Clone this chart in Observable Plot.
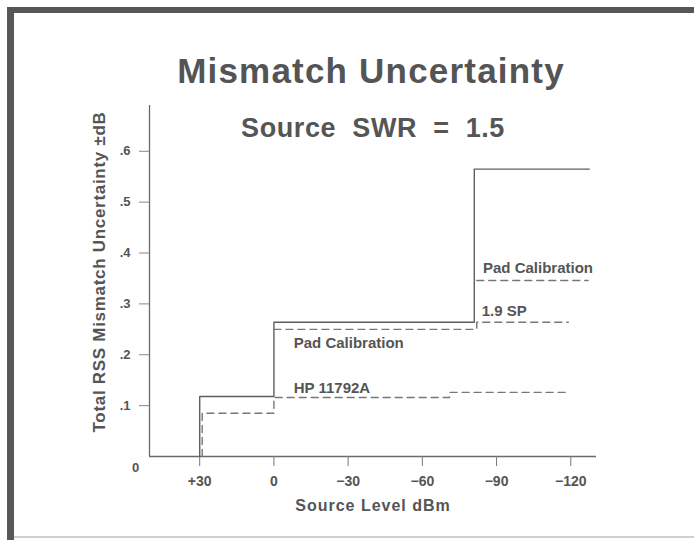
<!DOCTYPE html>
<html><head><meta charset="utf-8">
<script src="https://cdn.jsdelivr.net/npm/d3@7"></script>
<script src="https://cdn.jsdelivr.net/npm/@observablehq/plot@0.6"></script>
<style>
body{margin:0;background:#fff;overflow:hidden;}
#wrap{position:relative;width:694px;height:540px;overflow:hidden;background:#fff;font-family:"Liberation Sans",Arial,sans-serif;}
#border{position:absolute;left:7px;top:7px;width:720px;height:560px;border-top:6px solid #575757;border-left:7px solid #575757;}
#bottom{position:absolute;left:14px;top:536px;width:700px;height:2px;background:#cfcfcf;}
#title{position:absolute;left:0;width:742px;top:54px;text-align:center;font-size:35px;font-weight:bold;color:#545454;line-height:34px;letter-spacing:1.2px;margin:0;}
#chart{position:absolute;left:0;top:0;}
</style></head><body>
<div id="wrap"><div id="border"></div><div id="bottom"></div><div id="chart"></div><h1 id="title">Mismatch Uncertainty</h1></div>
<script>
const subtitle = "Source SWR = 1.5";
const xLabel = "Source Level dBm";
const yLabel = "Total RSS Mismatch Uncertainty \u00b1dB";

const xTicks = [30, 0, -30, -60, -90, -120];
const xTickLabels = ["+30", "0", "\u221230", "\u221260", "\u221290", "\u2212120"];
const yTicks = [0.1, 0.2, 0.3, 0.4, 0.5, 0.6];
const yTickLabels = [".1", ".2", ".3", ".4", ".5", ".6"];
const xDomain = [50.3, -130.4];
const yDomain = [0, 0.69];

// Total (solid step line)
const totalX = [30, 30, 0, -81, -127.5];
const totalY = [0, 0.118, 0.264, 0.565, 0.565];
// HP 11792A (dashed)
const hpX = [29, 29, 0, -71, -119];
const hpY = [0, 0.085, 0.116, 0.126, 0.126];
// Pad Calibration / 1.9 SP (dashed)
const spX = [0, -82, -119];
const spY = [0.25, 0.264, 0.264];
// Pad Calibration, right (dashed)
const padX = [-82, -127];
const padY = [0.346, 0.346];

const labelText = ["Pad Calibration", "HP 11792A", "Pad Calibration", "1.9 SP"];
const labelX = [-8, -8, -84.5, -84];
const labelY = [0.222, 0.134, 0.37, 0.285];

const toPts = (xs, ys) => xs.map((x, i) => ({x, y: ys[i]}));
const labels = labelText.map((t, i) => ({t, x: labelX[i], y: labelY[i]}));
const ink = "#555";

const chart = Plot.plot({
  width: 694, height: 540,
  marginLeft: 149, marginRight: 98, marginTop: 105, marginBottom: 84,
  style: {fontFamily: "'Liberation Sans', Arial, sans-serif", color: ink, background: "transparent"},
  x: {domain: xDomain},
  y: {domain: yDomain},
  marks: [
    Plot.ruleY([0], {stroke: "#6a6a6a", strokeWidth: 1.3}),
    Plot.ruleX([xDomain[0]], {stroke: "#6a6a6a", strokeWidth: 1.3}),
    Plot.axisX(xTicks, {tickSize: 10, tickPadding: 10, fontSize: 14, fontWeight: "bold", stroke: "#777",
      tickFormat: d => xTickLabels[xTicks.indexOf(d)], label: null}),
    Plot.axisY(yTicks, {tickSize: 10, tickPadding: 9, fontSize: 13, fontWeight: "bold", stroke: "#888",
      tickFormat: d => yTickLabels[yTicks.indexOf(d)], label: null}),
    Plot.text(["0"], {x: () => xDomain[0], y: () => 0, dx: -14, dy: 11, fontSize: 13, fontWeight: "bold", fill: ink}),
    Plot.line(toPts(totalX, totalY), {x: "x", y: "y", curve: "step-after", stroke: "#5e5e5e", strokeWidth: 1.4}),
    Plot.line(toPts(hpX, hpY), {x: "x", y: "y", curve: "step-after", stroke: "#777", strokeWidth: 1.4, strokeDasharray: "7,5"}),
    Plot.line(toPts(spX, spY), {x: "x", y: "y", curve: "step-after", stroke: "#777", strokeWidth: 1.4, strokeDasharray: "7,5"}),
    Plot.line(toPts(padX, padY), {x: "x", y: "y", curve: "step-after", stroke: "#777", strokeWidth: 1.4, strokeDasharray: "7,5"}),
    Plot.text(labels, {x: "x", y: "y", text: "t", textAnchor: "start", fontSize: 15, fontWeight: "bold", fill: ink}),
    Plot.text([subtitle], {frameAnchor: "top", dy: 12, fontSize: 27, fontWeight: "bold", fill: ink}),
    Plot.text([xLabel], {frameAnchor: "bottom", dy: 54, fontSize: 16, fontWeight: "bold", fill: ink}),
    Plot.text([yLabel], {frameAnchor: "left", textAnchor: "middle", rotate: -90, dx: -50, dy: -9, fontSize: 17, fontWeight: "bold", fill: ink})
  ]
});
document.getElementById("chart").appendChild(chart);
const svg = d3.select(chart);
svg.selectAll("text").filter(function(){ return this.textContent === subtitle; }).style("word-spacing", "8px").style("letter-spacing", "0.6px");
svg.selectAll("text").filter(function(){ return this.textContent === yLabel; }).style("letter-spacing", "0.7px");
svg.selectAll("text").filter(function(){ return this.textContent === xLabel; }).style("letter-spacing", "1px");
</script>
</body></html>
